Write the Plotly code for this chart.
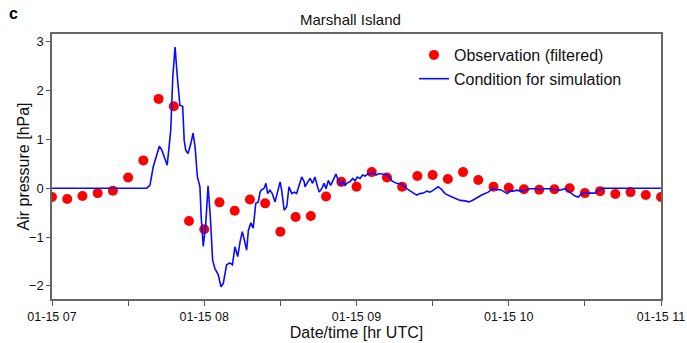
import pandas as pd
import plotly.graph_objects as go

BASE = pd.Timestamp("2022-01-15 07:00")

# Observation (filtered): every 6 minutes from 07:00 to 11:00
obs_minutes = list(range(0, 241, 6))
obs_values = [-0.18, -0.22, -0.16, -0.10, -0.05, 0.22, 0.57, 1.83, 1.68, -0.67,
              -0.84, -0.29, -0.46, -0.23, -0.31, -0.89, -0.59, -0.57, -0.17, 0.13,
              0.03, 0.33, 0.22, 0.03, 0.25, 0.27, 0.19, 0.33, 0.17, 0.03,
              0.01, -0.02, -0.03, -0.02, 0.00, -0.10, -0.06, -0.12, -0.08, -0.14,
              -0.18]

# Condition for simulation (minutes after 07:00, hPa)
sim_minutes = [0, 37.3, 38.6, 39.9, 42.3, 43.3, 45.4, 46.8, 47.6, 48.5, 49.4, 50.4, 51.5,
               52.1, 52.7, 53.6, 54.7, 55.6, 56.4, 57.3, 58.3, 58.8, 59.6, 60.6, 61.5,
               62.4, 63.3, 64.2, 65.5, 66.6, 67.5, 68.8, 70.1, 71.1, 72.1, 73.2, 74.1,
               75.0, 75.8, 76.7, 77.4, 78.4, 79.3, 80.3, 81.3, 82.0, 82.6, 83.5, 84.3,
               85.0, 85.9, 86.8, 87.9, 88.9, 89.9, 90.5, 91.5, 92.5, 93.4, 94.5, 95.5,
               96.4, 97.3, 98.4, 99.4, 99.7, 100.6, 101.7, 102.7, 103.6, 104.6, 105.3,
               106.3, 107.2, 108.0, 108.9, 109.8, 110.9, 111.9, 112.8, 113.8, 114.6,
               115.5, 116.4, 117.4, 118.5, 119.4, 120.3, 121.4, 122.4, 123.4, 124.6,
               125.7, 126.6, 127.7, 129.0, 130.6, 132.1, 133.2, 133.9, 135.8, 137.8,
               139.8, 141.8, 143.7, 145.0, 146.3, 147.7, 149.0, 150.3, 152.2, 153.6,
               154.9, 156.8, 158.8, 160.8, 162.8, 164.3, 165.6, 166.7, 168.0, 169.3,
               170.6, 171.9, 173.7, 175.3, 176.8, 178.5, 179.4, 180.5, 181.8, 183.1,
               184.7, 186.4, 188.4, 190.3, 192.3, 194.3, 196.3, 198.2, 200.2, 202.2,
               203.5, 204.8, 206.1, 207.4, 208.8, 210.1, 211.4, 212.7, 214.0, 215.3,
               216.6, 217.5, 240]
sim_values = [0, 0, 0.06, 0.44, 0.86, 0.78, 0.47, 1.19, 2.28, 2.89, 2.28, 1.70, 1.68,
              0.98, 0.78, 0.71, 0.91, 1.13, 0.84, 0.23, 0.03, -0.59, -1.19, -0.72, 0.05,
              -0.59, -1.47, -1.65, -1.77, -2.02, -1.95, -1.57, -1.53, -1.57, -1.20, -1.40, -1.10,
              -0.89, -1.06, -1.27, -0.86, -0.71, -0.82, -0.31, -0.28, -0.08, -0.03, -0.01, 0.10,
              -0.11, -0.04, -0.11, -0.28, -0.04, 0.13, -0.04, -0.45, -0.38, 0.03, -0.11, -0.08,
              -0.11, 0.03, 0.23, 0.13, 0.03, 0.11, 0.20, 0.10, 0.23, 0.04, -0.08,
              -0.01, 0.10, -0.01, 0.16, 0.06, 0.20, 0.29, 0.16, 0.06, 0.15,
              0.06, 0.11, 0.13, 0.20, 0.15, 0.23, 0.20, 0.27, 0.25, 0.30,
              0.29, 0.33, 0.27, 0.30, 0.29, 0.27, 0.22, 0.15, 0.10, 0.08,
              -0.01, -0.08, -0.14, -0.11, -0.10, -0.06, -0.08, -0.04, 0.03, -0.03,
              -0.11, -0.16, -0.21, -0.25, -0.26, -0.28, -0.25, -0.21, -0.18, -0.14,
              -0.11, -0.08, -0.01, -0.03, -0.03, -0.08, -0.11, -0.06, -0.06, -0.04,
              -0.06, -0.04, -0.01, -0.01, -0.03, -0.01, -0.01, -0.03, -0.04, -0.01,
              -0.06, -0.11, -0.16, -0.18, -0.11, -0.10, -0.10, -0.11, -0.10, -0.04,
              -0.02, 0.0, 0.0]

title_text = "Marshall Island"
panel_label = "c"
x_title = "Date/time [hr UTC]"
y_title = "Air pressure [hPa]"

obs_t = [BASE + pd.Timedelta(minutes=m) for m in obs_minutes]
sim_t = [BASE + pd.Timedelta(minutes=m) for m in sim_minutes]

FONT = "Liberation Sans, Arial, sans-serif"
W, H = 687, 343
ML, MR, MT, MB = 52, 26, 34, 44
PW, PH = W - ML - MR, H - MT - MB

fig = go.Figure()
fig.add_trace(go.Scatter(x=obs_t, y=obs_values, mode="markers",
                         name="Observation (filtered)",
                         marker=dict(color="#ff0000", size=10)))
fig.add_trace(go.Scatter(x=sim_t, y=sim_values, mode="lines",
                         name="Condition for simulation",
                         line=dict(color="#0a0aff", width=1.6)))

fig.update_layout(
    width=W, height=H,
    margin=dict(l=ML, r=MR, t=MT, b=MB),
    paper_bgcolor="white", plot_bgcolor="white",
    font=dict(family=FONT, size=13, color="#111"),
    showlegend=True,
    legend=dict(x=(414 - ML) / PW, y=0.985, xanchor="left", yanchor="top",
                bgcolor="rgba(0,0,0,0)", font=dict(size=16, color="#111"),
                itemwidth=30),
    annotations=[
        dict(text=title_text, x=(350 - ML) / PW, y=1.0, xref="paper", yref="paper",
             xanchor="center", yanchor="bottom", yshift=4, showarrow=False,
             font=dict(size=15, color="#111")),
        dict(text="<b>" + panel_label + "</b>", x=(7 - ML) / PW, y=1 + (MT - 13) / PH,
             xref="paper", yref="paper", xanchor="left", yanchor="middle",
             showarrow=False, font=dict(size=16, color="#000")),
        dict(text=y_title, x=(23 - ML) / PW, y=0.5, xref="paper", yref="paper",
             xanchor="center", yanchor="middle", textangle=-90, showarrow=False,
             font=dict(size=16, color="#111")),
    ],
)

fig.update_xaxes(
    type="date", automargin=False,
    range=[BASE, BASE + pd.Timedelta(hours=4)],
    dtick=3600000, tick0=BASE, tickformat="%m-%d %H",
    ticks="outside", ticklen=5, tickcolor="#555",
    minor=dict(dtick=1800000, tick0=BASE, ticks="outside", ticklen=5, tickcolor="#555"),
    showgrid=False, zeroline=False,
    showline=True, linecolor="#666", linewidth=1.5, mirror=True,
    title=dict(text=x_title, font=dict(size=16), standoff=3),
    tickfont=dict(size=12.5),
)
fig.update_yaxes(
    automargin=False,
    range=[-2.27, 3.16],
    tickvals=[-2, -1, 0, 1, 2, 3],
    ticks="outside", ticklen=4, tickcolor="#555",
    showgrid=False, zeroline=False,
    showline=True, linecolor="#666", linewidth=1.5, mirror=True,
    tickfont=dict(size=13),
)

fig.write_html("out.html")
